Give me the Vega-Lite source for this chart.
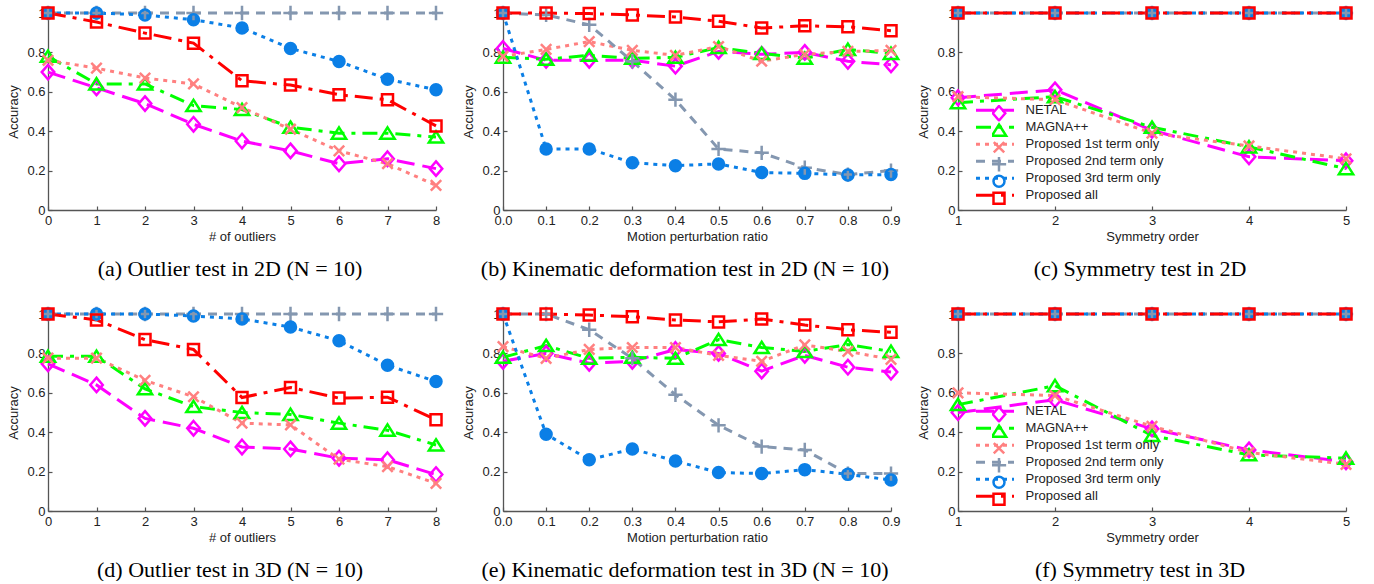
{
  "$schema": "https://vega.github.io/schema/vega-lite/v6.json",
  "padding": {"left": 7, "top": 0, "right": 0, "bottom": 0},
  "background": "white",
  "datasets": {
    "a": [
      {"series": "NETAL", "x": 0, "y": 0.70}, {"series": "NETAL", "x": 1, "y": 0.62}, {"series": "NETAL", "x": 2, "y": 0.54}, {"series": "NETAL", "x": 3, "y": 0.435}, {"series": "NETAL", "x": 4, "y": 0.35}, {"series": "NETAL", "x": 5, "y": 0.30}, {"series": "NETAL", "x": 6, "y": 0.235}, {"series": "NETAL", "x": 7, "y": 0.26}, {"series": "NETAL", "x": 8, "y": 0.21},
      {"series": "MAGNA++", "x": 0, "y": 0.78}, {"series": "MAGNA++", "x": 1, "y": 0.64}, {"series": "MAGNA++", "x": 2, "y": 0.64}, {"series": "MAGNA++", "x": 3, "y": 0.53}, {"series": "MAGNA++", "x": 4, "y": 0.51}, {"series": "MAGNA++", "x": 5, "y": 0.42}, {"series": "MAGNA++", "x": 6, "y": 0.39}, {"series": "MAGNA++", "x": 7, "y": 0.39}, {"series": "MAGNA++", "x": 8, "y": 0.37},
      {"series": "Proposed 1st term only", "x": 0, "y": 0.76}, {"series": "Proposed 1st term only", "x": 1, "y": 0.72}, {"series": "Proposed 1st term only", "x": 2, "y": 0.67}, {"series": "Proposed 1st term only", "x": 3, "y": 0.64}, {"series": "Proposed 1st term only", "x": 4, "y": 0.52}, {"series": "Proposed 1st term only", "x": 5, "y": 0.41}, {"series": "Proposed 1st term only", "x": 6, "y": 0.30}, {"series": "Proposed 1st term only", "x": 7, "y": 0.235}, {"series": "Proposed 1st term only", "x": 8, "y": 0.125},
      {"series": "Proposed 2nd term only", "x": 0, "y": 1}, {"series": "Proposed 2nd term only", "x": 1, "y": 1}, {"series": "Proposed 2nd term only", "x": 2, "y": 1}, {"series": "Proposed 2nd term only", "x": 3, "y": 1}, {"series": "Proposed 2nd term only", "x": 4, "y": 1}, {"series": "Proposed 2nd term only", "x": 5, "y": 1}, {"series": "Proposed 2nd term only", "x": 6, "y": 1}, {"series": "Proposed 2nd term only", "x": 7, "y": 1}, {"series": "Proposed 2nd term only", "x": 8, "y": 1},
      {"series": "Proposed 3rd term only", "x": 0, "y": 1}, {"series": "Proposed 3rd term only", "x": 1, "y": 1}, {"series": "Proposed 3rd term only", "x": 2, "y": 0.99}, {"series": "Proposed 3rd term only", "x": 3, "y": 0.966}, {"series": "Proposed 3rd term only", "x": 4, "y": 0.924}, {"series": "Proposed 3rd term only", "x": 5, "y": 0.82}, {"series": "Proposed 3rd term only", "x": 6, "y": 0.754}, {"series": "Proposed 3rd term only", "x": 7, "y": 0.664}, {"series": "Proposed 3rd term only", "x": 8, "y": 0.61},
      {"series": "Proposed all", "x": 0, "y": 1}, {"series": "Proposed all", "x": 1, "y": 0.954}, {"series": "Proposed all", "x": 2, "y": 0.898}, {"series": "Proposed all", "x": 3, "y": 0.847}, {"series": "Proposed all", "x": 4, "y": 0.656}, {"series": "Proposed all", "x": 5, "y": 0.634}, {"series": "Proposed all", "x": 6, "y": 0.585}, {"series": "Proposed all", "x": 7, "y": 0.56}, {"series": "Proposed all", "x": 8, "y": 0.427}
    ],
    "b": [
      {"series": "NETAL", "x": 0.0, "y": 0.82}, {"series": "NETAL", "x": 0.1, "y": 0.76}, {"series": "NETAL", "x": 0.2, "y": 0.76}, {"series": "NETAL", "x": 0.3, "y": 0.76}, {"series": "NETAL", "x": 0.4, "y": 0.73}, {"series": "NETAL", "x": 0.5, "y": 0.805}, {"series": "NETAL", "x": 0.6, "y": 0.79}, {"series": "NETAL", "x": 0.7, "y": 0.80}, {"series": "NETAL", "x": 0.8, "y": 0.755}, {"series": "NETAL", "x": 0.9, "y": 0.737},
      {"series": "MAGNA++", "x": 0.0, "y": 0.775}, {"series": "MAGNA++", "x": 0.1, "y": 0.765}, {"series": "MAGNA++", "x": 0.2, "y": 0.785}, {"series": "MAGNA++", "x": 0.3, "y": 0.77}, {"series": "MAGNA++", "x": 0.4, "y": 0.775}, {"series": "MAGNA++", "x": 0.5, "y": 0.825}, {"series": "MAGNA++", "x": 0.6, "y": 0.795}, {"series": "MAGNA++", "x": 0.7, "y": 0.77}, {"series": "MAGNA++", "x": 0.8, "y": 0.815}, {"series": "MAGNA++", "x": 0.9, "y": 0.795},
      {"series": "Proposed 1st term only", "x": 0.0, "y": 0.78}, {"series": "Proposed 1st term only", "x": 0.1, "y": 0.815}, {"series": "Proposed 1st term only", "x": 0.2, "y": 0.855}, {"series": "Proposed 1st term only", "x": 0.3, "y": 0.81}, {"series": "Proposed 1st term only", "x": 0.4, "y": 0.785}, {"series": "Proposed 1st term only", "x": 0.5, "y": 0.83}, {"series": "Proposed 1st term only", "x": 0.6, "y": 0.755}, {"series": "Proposed 1st term only", "x": 0.7, "y": 0.79}, {"series": "Proposed 1st term only", "x": 0.8, "y": 0.805}, {"series": "Proposed 1st term only", "x": 0.9, "y": 0.81},
      {"series": "Proposed 2nd term only", "x": 0.0, "y": 1}, {"series": "Proposed 2nd term only", "x": 0.1, "y": 0.99}, {"series": "Proposed 2nd term only", "x": 0.2, "y": 0.94}, {"series": "Proposed 2nd term only", "x": 0.3, "y": 0.755}, {"series": "Proposed 2nd term only", "x": 0.4, "y": 0.56}, {"series": "Proposed 2nd term only", "x": 0.5, "y": 0.31}, {"series": "Proposed 2nd term only", "x": 0.6, "y": 0.29}, {"series": "Proposed 2nd term only", "x": 0.7, "y": 0.215}, {"series": "Proposed 2nd term only", "x": 0.8, "y": 0.18}, {"series": "Proposed 2nd term only", "x": 0.9, "y": 0.20},
      {"series": "Proposed 3rd term only", "x": 0.0, "y": 1}, {"series": "Proposed 3rd term only", "x": 0.1, "y": 0.31}, {"series": "Proposed 3rd term only", "x": 0.2, "y": 0.31}, {"series": "Proposed 3rd term only", "x": 0.3, "y": 0.24}, {"series": "Proposed 3rd term only", "x": 0.4, "y": 0.225}, {"series": "Proposed 3rd term only", "x": 0.5, "y": 0.234}, {"series": "Proposed 3rd term only", "x": 0.6, "y": 0.19}, {"series": "Proposed 3rd term only", "x": 0.7, "y": 0.186}, {"series": "Proposed 3rd term only", "x": 0.8, "y": 0.178}, {"series": "Proposed 3rd term only", "x": 0.9, "y": 0.18},
      {"series": "Proposed all", "x": 0.0, "y": 1}, {"series": "Proposed all", "x": 0.1, "y": 1}, {"series": "Proposed all", "x": 0.2, "y": 0.997}, {"series": "Proposed all", "x": 0.3, "y": 0.99}, {"series": "Proposed all", "x": 0.4, "y": 0.98}, {"series": "Proposed all", "x": 0.5, "y": 0.958}, {"series": "Proposed all", "x": 0.6, "y": 0.924}, {"series": "Proposed all", "x": 0.7, "y": 0.935}, {"series": "Proposed all", "x": 0.8, "y": 0.93}, {"series": "Proposed all", "x": 0.9, "y": 0.91}
    ],
    "c": [
      {"series": "NETAL", "x": 1, "y": 0.57}, {"series": "NETAL", "x": 2, "y": 0.61}, {"series": "NETAL", "x": 3, "y": 0.405}, {"series": "NETAL", "x": 4, "y": 0.27}, {"series": "NETAL", "x": 5, "y": 0.25},
      {"series": "MAGNA++", "x": 1, "y": 0.545}, {"series": "MAGNA++", "x": 2, "y": 0.575}, {"series": "MAGNA++", "x": 3, "y": 0.42}, {"series": "MAGNA++", "x": 4, "y": 0.32}, {"series": "MAGNA++", "x": 5, "y": 0.21},
      {"series": "Proposed 1st term only", "x": 1, "y": 0.575}, {"series": "Proposed 1st term only", "x": 2, "y": 0.56}, {"series": "Proposed 1st term only", "x": 3, "y": 0.39}, {"series": "Proposed 1st term only", "x": 4, "y": 0.325}, {"series": "Proposed 1st term only", "x": 5, "y": 0.26},
      {"series": "Proposed 2nd term only", "x": 1, "y": 1}, {"series": "Proposed 2nd term only", "x": 2, "y": 1}, {"series": "Proposed 2nd term only", "x": 3, "y": 1}, {"series": "Proposed 2nd term only", "x": 4, "y": 1}, {"series": "Proposed 2nd term only", "x": 5, "y": 1},
      {"series": "Proposed 3rd term only", "x": 1, "y": 1}, {"series": "Proposed 3rd term only", "x": 2, "y": 1}, {"series": "Proposed 3rd term only", "x": 3, "y": 1}, {"series": "Proposed 3rd term only", "x": 4, "y": 1}, {"series": "Proposed 3rd term only", "x": 5, "y": 1},
      {"series": "Proposed all", "x": 1, "y": 1}, {"series": "Proposed all", "x": 2, "y": 1}, {"series": "Proposed all", "x": 3, "y": 1}, {"series": "Proposed all", "x": 4, "y": 1}, {"series": "Proposed all", "x": 5, "y": 1}
    ],
    "d": [
      {"series": "NETAL", "x": 0, "y": 0.747}, {"series": "NETAL", "x": 1, "y": 0.64}, {"series": "NETAL", "x": 2, "y": 0.47}, {"series": "NETAL", "x": 3, "y": 0.42}, {"series": "NETAL", "x": 4, "y": 0.325}, {"series": "NETAL", "x": 5, "y": 0.315}, {"series": "NETAL", "x": 6, "y": 0.268}, {"series": "NETAL", "x": 7, "y": 0.26}, {"series": "NETAL", "x": 8, "y": 0.185},
      {"series": "MAGNA++", "x": 0, "y": 0.785}, {"series": "MAGNA++", "x": 1, "y": 0.785}, {"series": "MAGNA++", "x": 2, "y": 0.62}, {"series": "MAGNA++", "x": 3, "y": 0.53}, {"series": "MAGNA++", "x": 4, "y": 0.50}, {"series": "MAGNA++", "x": 5, "y": 0.49}, {"series": "MAGNA++", "x": 6, "y": 0.446}, {"series": "MAGNA++", "x": 7, "y": 0.41}, {"series": "MAGNA++", "x": 8, "y": 0.335},
      {"series": "Proposed 1st term only", "x": 0, "y": 0.776}, {"series": "Proposed 1st term only", "x": 1, "y": 0.776}, {"series": "Proposed 1st term only", "x": 2, "y": 0.663}, {"series": "Proposed 1st term only", "x": 3, "y": 0.58}, {"series": "Proposed 1st term only", "x": 4, "y": 0.446}, {"series": "Proposed 1st term only", "x": 5, "y": 0.437}, {"series": "Proposed 1st term only", "x": 6, "y": 0.263}, {"series": "Proposed 1st term only", "x": 7, "y": 0.225}, {"series": "Proposed 1st term only", "x": 8, "y": 0.14},
      {"series": "Proposed 2nd term only", "x": 0, "y": 1}, {"series": "Proposed 2nd term only", "x": 1, "y": 1}, {"series": "Proposed 2nd term only", "x": 2, "y": 1}, {"series": "Proposed 2nd term only", "x": 3, "y": 1}, {"series": "Proposed 2nd term only", "x": 4, "y": 1}, {"series": "Proposed 2nd term only", "x": 5, "y": 1}, {"series": "Proposed 2nd term only", "x": 6, "y": 1}, {"series": "Proposed 2nd term only", "x": 7, "y": 1}, {"series": "Proposed 2nd term only", "x": 8, "y": 1},
      {"series": "Proposed 3rd term only", "x": 0, "y": 1}, {"series": "Proposed 3rd term only", "x": 1, "y": 1}, {"series": "Proposed 3rd term only", "x": 2, "y": 1}, {"series": "Proposed 3rd term only", "x": 3, "y": 0.99}, {"series": "Proposed 3rd term only", "x": 4, "y": 0.975}, {"series": "Proposed 3rd term only", "x": 5, "y": 0.934}, {"series": "Proposed 3rd term only", "x": 6, "y": 0.864}, {"series": "Proposed 3rd term only", "x": 7, "y": 0.74}, {"series": "Proposed 3rd term only", "x": 8, "y": 0.657},
      {"series": "Proposed all", "x": 0, "y": 1}, {"series": "Proposed all", "x": 1, "y": 0.97}, {"series": "Proposed all", "x": 2, "y": 0.87}, {"series": "Proposed all", "x": 3, "y": 0.82}, {"series": "Proposed all", "x": 4, "y": 0.576}, {"series": "Proposed all", "x": 5, "y": 0.627}, {"series": "Proposed all", "x": 6, "y": 0.573}, {"series": "Proposed all", "x": 7, "y": 0.578}, {"series": "Proposed all", "x": 8, "y": 0.463}
    ],
    "e": [
      {"series": "NETAL", "x": 0.0, "y": 0.76}, {"series": "NETAL", "x": 0.1, "y": 0.80}, {"series": "NETAL", "x": 0.2, "y": 0.75}, {"series": "NETAL", "x": 0.3, "y": 0.76}, {"series": "NETAL", "x": 0.4, "y": 0.82}, {"series": "NETAL", "x": 0.5, "y": 0.80}, {"series": "NETAL", "x": 0.6, "y": 0.71}, {"series": "NETAL", "x": 0.7, "y": 0.79}, {"series": "NETAL", "x": 0.8, "y": 0.73}, {"series": "NETAL", "x": 0.9, "y": 0.705},
      {"series": "MAGNA++", "x": 0.0, "y": 0.78}, {"series": "MAGNA++", "x": 0.1, "y": 0.84}, {"series": "MAGNA++", "x": 0.2, "y": 0.775}, {"series": "MAGNA++", "x": 0.3, "y": 0.78}, {"series": "MAGNA++", "x": 0.4, "y": 0.775}, {"series": "MAGNA++", "x": 0.5, "y": 0.87}, {"series": "MAGNA++", "x": 0.6, "y": 0.83}, {"series": "MAGNA++", "x": 0.7, "y": 0.81}, {"series": "MAGNA++", "x": 0.8, "y": 0.845}, {"series": "MAGNA++", "x": 0.9, "y": 0.81},
      {"series": "Proposed 1st term only", "x": 0.0, "y": 0.834}, {"series": "Proposed 1st term only", "x": 0.1, "y": 0.775}, {"series": "Proposed 1st term only", "x": 0.2, "y": 0.82}, {"series": "Proposed 1st term only", "x": 0.3, "y": 0.83}, {"series": "Proposed 1st term only", "x": 0.4, "y": 0.83}, {"series": "Proposed 1st term only", "x": 0.5, "y": 0.79}, {"series": "Proposed 1st term only", "x": 0.6, "y": 0.76}, {"series": "Proposed 1st term only", "x": 0.7, "y": 0.843}, {"series": "Proposed 1st term only", "x": 0.8, "y": 0.81}, {"series": "Proposed 1st term only", "x": 0.9, "y": 0.77},
      {"series": "Proposed 2nd term only", "x": 0.0, "y": 1}, {"series": "Proposed 2nd term only", "x": 0.1, "y": 1}, {"series": "Proposed 2nd term only", "x": 0.2, "y": 0.92}, {"series": "Proposed 2nd term only", "x": 0.3, "y": 0.775}, {"series": "Proposed 2nd term only", "x": 0.4, "y": 0.59}, {"series": "Proposed 2nd term only", "x": 0.5, "y": 0.435}, {"series": "Proposed 2nd term only", "x": 0.6, "y": 0.327}, {"series": "Proposed 2nd term only", "x": 0.7, "y": 0.31}, {"series": "Proposed 2nd term only", "x": 0.8, "y": 0.19}, {"series": "Proposed 2nd term only", "x": 0.9, "y": 0.19},
      {"series": "Proposed 3rd term only", "x": 0.0, "y": 1}, {"series": "Proposed 3rd term only", "x": 0.1, "y": 0.39}, {"series": "Proposed 3rd term only", "x": 0.2, "y": 0.26}, {"series": "Proposed 3rd term only", "x": 0.3, "y": 0.315}, {"series": "Proposed 3rd term only", "x": 0.4, "y": 0.254}, {"series": "Proposed 3rd term only", "x": 0.5, "y": 0.195}, {"series": "Proposed 3rd term only", "x": 0.6, "y": 0.19}, {"series": "Proposed 3rd term only", "x": 0.7, "y": 0.21}, {"series": "Proposed 3rd term only", "x": 0.8, "y": 0.186}, {"series": "Proposed 3rd term only", "x": 0.9, "y": 0.157},
      {"series": "Proposed all", "x": 0.0, "y": 1}, {"series": "Proposed all", "x": 0.1, "y": 1}, {"series": "Proposed all", "x": 0.2, "y": 0.995}, {"series": "Proposed all", "x": 0.3, "y": 0.986}, {"series": "Proposed all", "x": 0.4, "y": 0.97}, {"series": "Proposed all", "x": 0.5, "y": 0.96}, {"series": "Proposed all", "x": 0.6, "y": 0.975}, {"series": "Proposed all", "x": 0.7, "y": 0.944}, {"series": "Proposed all", "x": 0.8, "y": 0.92}, {"series": "Proposed all", "x": 0.9, "y": 0.907}
    ],
    "f": [
      {"series": "NETAL", "x": 1, "y": 0.50}, {"series": "NETAL", "x": 2, "y": 0.565}, {"series": "NETAL", "x": 3, "y": 0.417}, {"series": "NETAL", "x": 4, "y": 0.31}, {"series": "NETAL", "x": 5, "y": 0.25},
      {"series": "MAGNA++", "x": 1, "y": 0.54}, {"series": "MAGNA++", "x": 2, "y": 0.636}, {"series": "MAGNA++", "x": 3, "y": 0.383}, {"series": "MAGNA++", "x": 4, "y": 0.285}, {"series": "MAGNA++", "x": 5, "y": 0.268},
      {"series": "Proposed 1st term only", "x": 1, "y": 0.60}, {"series": "Proposed 1st term only", "x": 2, "y": 0.586}, {"series": "Proposed 1st term only", "x": 3, "y": 0.43}, {"series": "Proposed 1st term only", "x": 4, "y": 0.297}, {"series": "Proposed 1st term only", "x": 5, "y": 0.237},
      {"series": "Proposed 2nd term only", "x": 1, "y": 1}, {"series": "Proposed 2nd term only", "x": 2, "y": 1}, {"series": "Proposed 2nd term only", "x": 3, "y": 1}, {"series": "Proposed 2nd term only", "x": 4, "y": 1}, {"series": "Proposed 2nd term only", "x": 5, "y": 1},
      {"series": "Proposed 3rd term only", "x": 1, "y": 1}, {"series": "Proposed 3rd term only", "x": 2, "y": 1}, {"series": "Proposed 3rd term only", "x": 3, "y": 1}, {"series": "Proposed 3rd term only", "x": 4, "y": 1}, {"series": "Proposed 3rd term only", "x": 5, "y": 1},
      {"series": "Proposed all", "x": 1, "y": 1}, {"series": "Proposed all", "x": 2, "y": 1}, {"series": "Proposed all", "x": 3, "y": 1}, {"series": "Proposed all", "x": 4, "y": 1}, {"series": "Proposed all", "x": 5, "y": 1}
    ]
  },
  "columns": 3,
  "spacing": {"row": 104, "column": 67},
  "bounds": "flush",
  "resolve": {
    "scale": {"color": "independent", "stroke": "independent", "strokeDash": "independent", "shape": "independent"},
    "legend": {"color": "independent", "stroke": "independent", "strokeDash": "independent", "shape": "independent"}
  },
  "concat": [
    {
      "width": 388, "height": 197,
      "title": "(a) Outlier test in 2D (N = 10)",
      "data": {"name": "a"},
      "encoding": {
        "x": {"field": "x", "type": "quantitative", "scale": {"domain": [0, 8], "nice": false, "zero": false}, "axis": {"title": "# of outliers", "values": [0, 1, 2, 3, 4, 5, 6, 7, 8], "format": "d"}},
        "y": {"field": "y", "type": "quantitative", "scale": {"domain": [0, 1], "nice": false}, "axis": {"title": "Accuracy", "values": [0, 0.2, 0.4, 0.6, 0.8, 1], "format": "~g"}}
      },
      "layer": [
        {"mark": {"type": "line", "strokeWidth": 3},
         "encoding": {
           "stroke": {"field": "series", "type": "nominal", "scale": {"domain": ["NETAL", "MAGNA++", "Proposed 1st term only", "Proposed 2nd term only", "Proposed 3rd term only", "Proposed all"], "range": ["#ff00ff", "#00ff00", "#ff8080", "#8497b0", "#0b7fe6", "#ff0000"]}, "legend": null},
           "strokeDash": {"field": "series", "type": "nominal", "scale": {"domain": ["NETAL", "MAGNA++", "Proposed 1st term only", "Proposed 2nd term only", "Proposed 3rd term only", "Proposed all"], "range": [[18, 8], [15, 7, 4, 7], [4, 5], [9, 7], [4, 5], [18, 7, 4, 7]]}, "legend": null}
         }},
        {"transform": [{"filter": "datum.series === 'Proposed 3rd term only'"}],
         "mark": {"type": "point", "shape": "circle", "filled": true, "color": "#0b7fe6", "size": 121, "opacity": 1, "strokeWidth": 2.5}},
        {"mark": {"type": "point", "filled": false, "strokeWidth": 2.5, "size": 121, "opacity": 1},
         "encoding": {
           "color": {"field": "series", "type": "nominal", "sort": null, "scale": {"range": ["#ff00ff", "#00ff00", "#ff8080", "#8497b0", "#0b7fe6", "#ff0000"]}, "legend": null},
           "shape": {"field": "series", "type": "nominal", "sort": null, "scale": {"range": ["M0,-1.32L1.14,0L0,1.32L-1.14,0Z", "M0,-1.05L1.3,1L-1.3,1Z", "M-0.95,-0.95L0.95,0.95M-0.95,0.95L0.95,-0.95", "M-1.3,0L1.3,0M0,-1.3L0,1.3", "circle", "M-1,-1L1,-1L1,1L-1,1Z"]}, "legend": null}
         }}
      ]
    },
    {
      "width": 388, "height": 197,
      "title": "(b) Kinematic deformation test in 2D (N = 10)",
      "data": {"name": "b"},
      "encoding": {
        "x": {"field": "x", "type": "quantitative", "scale": {"domain": [0, 0.9], "nice": false, "zero": false}, "axis": {"title": "Motion perturbation ratio", "values": [0, 0.1, 0.2, 0.3, 0.4, 0.5, 0.6, 0.7, 0.8, 0.9], "format": ".1f"}},
        "y": {"field": "y", "type": "quantitative", "scale": {"domain": [0, 1], "nice": false}, "axis": {"title": "Accuracy", "values": [0, 0.2, 0.4, 0.6, 0.8, 1], "format": "~g"}}
      },
      "layer": [
        {"mark": {"type": "line", "strokeWidth": 3},
         "encoding": {
           "stroke": {"field": "series", "type": "nominal", "scale": {"domain": ["NETAL", "MAGNA++", "Proposed 1st term only", "Proposed 2nd term only", "Proposed 3rd term only", "Proposed all"], "range": ["#ff00ff", "#00ff00", "#ff8080", "#8497b0", "#0b7fe6", "#ff0000"]}, "legend": null},
           "strokeDash": {"field": "series", "type": "nominal", "scale": {"domain": ["NETAL", "MAGNA++", "Proposed 1st term only", "Proposed 2nd term only", "Proposed 3rd term only", "Proposed all"], "range": [[18, 8], [15, 7, 4, 7], [4, 5], [9, 7], [4, 5], [18, 7, 4, 7]]}, "legend": null}
         }},
        {"transform": [{"filter": "datum.series === 'Proposed 3rd term only'"}],
         "mark": {"type": "point", "shape": "circle", "filled": true, "color": "#0b7fe6", "size": 121, "opacity": 1, "strokeWidth": 2.5}},
        {"mark": {"type": "point", "filled": false, "strokeWidth": 2.5, "size": 121, "opacity": 1},
         "encoding": {
           "color": {"field": "series", "type": "nominal", "sort": null, "scale": {"range": ["#ff00ff", "#00ff00", "#ff8080", "#8497b0", "#0b7fe6", "#ff0000"]}, "legend": null},
           "shape": {"field": "series", "type": "nominal", "sort": null, "scale": {"range": ["M0,-1.32L1.14,0L0,1.32L-1.14,0Z", "M0,-1.05L1.3,1L-1.3,1Z", "M-0.95,-0.95L0.95,0.95M-0.95,0.95L0.95,-0.95", "M-1.3,0L1.3,0M0,-1.3L0,1.3", "circle", "M-1,-1L1,-1L1,1L-1,1Z"]}, "legend": null}
         }}
      ]
    },
    {
      "width": 388, "height": 197,
      "title": "(c) Symmetry test in 2D",
      "data": {"name": "c"},
      "encoding": {
        "x": {"field": "x", "type": "quantitative", "scale": {"domain": [1, 5], "nice": false, "zero": false}, "axis": {"title": "Symmetry order", "values": [1, 2, 3, 4, 5], "format": "d"}},
        "y": {"field": "y", "type": "quantitative", "scale": {"domain": [0, 1], "nice": false}, "axis": {"title": "Accuracy", "values": [0, 0.2, 0.4, 0.6, 0.8, 1], "format": "~g"}}
      },
      "layer": [
        {"mark": {"type": "line", "strokeWidth": 3},
         "encoding": {
           "stroke": {"field": "series", "type": "nominal", "scale": {"domain": ["NETAL", "MAGNA++", "Proposed 1st term only", "Proposed 2nd term only", "Proposed 3rd term only", "Proposed all"], "range": ["#ff00ff", "#00ff00", "#ff8080", "#8497b0", "#0b7fe6", "#ff0000"]},
             "legend": {"orient": "bottom-left", "offset": 6, "title": null, "padding": 0, "rowPadding": 0, "clipHeight": 16.5, "symbolType": "stroke", "symbolSize": 1444, "symbolStrokeWidth": 3, "symbolOffset": 10.5, "labelOffset": 10, "labelFont": "Liberation Sans", "labelFontSize": 13, "labelColor": "#222"}},
           "strokeDash": {"field": "series", "type": "nominal", "scale": {"domain": ["NETAL", "MAGNA++", "Proposed 1st term only", "Proposed 2nd term only", "Proposed 3rd term only", "Proposed all"], "range": [[18, 8], [15, 7, 4, 7], [4, 5], [9, 7], [4, 5], [18, 7, 4, 7]]},
             "legend": {"orient": "bottom-left", "offset": 6, "title": null, "padding": 0, "rowPadding": 0, "clipHeight": 16.5, "symbolType": "stroke", "symbolSize": 1444, "symbolStrokeWidth": 3, "symbolOffset": 10.5, "labelOffset": 10, "labelFont": "Liberation Sans", "labelFontSize": 13, "labelColor": "#222"}}
         }},
        {"transform": [{"filter": "datum.series === 'Proposed 3rd term only'"}],
         "mark": {"type": "point", "shape": "circle", "filled": true, "color": "#0b7fe6", "size": 121, "opacity": 1, "strokeWidth": 2.5}},
        {"mark": {"type": "point", "filled": false, "strokeWidth": 2.5, "size": 121, "opacity": 1},
         "encoding": {
           "color": {"field": "series", "type": "nominal", "sort": null, "scale": {"range": ["#ff00ff", "#00ff00", "#ff8080", "#8497b0", "#0b7fe6", "#ff0000"]},
             "legend": {"orient": "none", "legendX": 34, "legendY": 92, "title": null, "padding": 0, "rowPadding": 0, "clipHeight": 16.5, "symbolSize": 121, "symbolStrokeWidth": 2.5, "labelExpr": "''", "labelFontSize": 13}},
           "shape": {"field": "series", "type": "nominal", "sort": null, "scale": {"range": ["M0,-1.32L1.14,0L0,1.32L-1.14,0Z", "M0,-1.05L1.3,1L-1.3,1Z", "M-0.95,-0.95L0.95,0.95M-0.95,0.95L0.95,-0.95", "M-1.3,0L1.3,0M0,-1.3L0,1.3", "circle", "M-1,-1L1,-1L1,1L-1,1Z"]},
             "legend": {"orient": "none", "legendX": 34, "legendY": 92, "title": null, "padding": 0, "rowPadding": 0, "clipHeight": 16.5, "symbolSize": 121, "symbolStrokeWidth": 2.5, "labelExpr": "''", "labelFontSize": 13}}
         }}
      ]
    },
    {
      "width": 388, "height": 197,
      "title": "(d) Outlier test in 3D (N = 10)",
      "data": {"name": "d"},
      "encoding": {
        "x": {"field": "x", "type": "quantitative", "scale": {"domain": [0, 8], "nice": false, "zero": false}, "axis": {"title": "# of outliers", "values": [0, 1, 2, 3, 4, 5, 6, 7, 8], "format": "d"}},
        "y": {"field": "y", "type": "quantitative", "scale": {"domain": [0, 1], "nice": false}, "axis": {"title": "Accuracy", "values": [0, 0.2, 0.4, 0.6, 0.8, 1], "format": "~g"}}
      },
      "layer": [
        {"mark": {"type": "line", "strokeWidth": 3},
         "encoding": {
           "stroke": {"field": "series", "type": "nominal", "scale": {"domain": ["NETAL", "MAGNA++", "Proposed 1st term only", "Proposed 2nd term only", "Proposed 3rd term only", "Proposed all"], "range": ["#ff00ff", "#00ff00", "#ff8080", "#8497b0", "#0b7fe6", "#ff0000"]}, "legend": null},
           "strokeDash": {"field": "series", "type": "nominal", "scale": {"domain": ["NETAL", "MAGNA++", "Proposed 1st term only", "Proposed 2nd term only", "Proposed 3rd term only", "Proposed all"], "range": [[18, 8], [15, 7, 4, 7], [4, 5], [9, 7], [4, 5], [18, 7, 4, 7]]}, "legend": null}
         }},
        {"transform": [{"filter": "datum.series === 'Proposed 3rd term only'"}],
         "mark": {"type": "point", "shape": "circle", "filled": true, "color": "#0b7fe6", "size": 121, "opacity": 1, "strokeWidth": 2.5}},
        {"mark": {"type": "point", "filled": false, "strokeWidth": 2.5, "size": 121, "opacity": 1},
         "encoding": {
           "color": {"field": "series", "type": "nominal", "sort": null, "scale": {"range": ["#ff00ff", "#00ff00", "#ff8080", "#8497b0", "#0b7fe6", "#ff0000"]}, "legend": null},
           "shape": {"field": "series", "type": "nominal", "sort": null, "scale": {"range": ["M0,-1.32L1.14,0L0,1.32L-1.14,0Z", "M0,-1.05L1.3,1L-1.3,1Z", "M-0.95,-0.95L0.95,0.95M-0.95,0.95L0.95,-0.95", "M-1.3,0L1.3,0M0,-1.3L0,1.3", "circle", "M-1,-1L1,-1L1,1L-1,1Z"]}, "legend": null}
         }}
      ]
    },
    {
      "width": 388, "height": 197,
      "title": "(e) Kinematic deformation test in 3D (N = 10)",
      "data": {"name": "e"},
      "encoding": {
        "x": {"field": "x", "type": "quantitative", "scale": {"domain": [0, 0.9], "nice": false, "zero": false}, "axis": {"title": "Motion perturbation ratio", "values": [0, 0.1, 0.2, 0.3, 0.4, 0.5, 0.6, 0.7, 0.8, 0.9], "format": ".1f"}},
        "y": {"field": "y", "type": "quantitative", "scale": {"domain": [0, 1], "nice": false}, "axis": {"title": "Accuracy", "values": [0, 0.2, 0.4, 0.6, 0.8, 1], "format": "~g"}}
      },
      "layer": [
        {"mark": {"type": "line", "strokeWidth": 3},
         "encoding": {
           "stroke": {"field": "series", "type": "nominal", "scale": {"domain": ["NETAL", "MAGNA++", "Proposed 1st term only", "Proposed 2nd term only", "Proposed 3rd term only", "Proposed all"], "range": ["#ff00ff", "#00ff00", "#ff8080", "#8497b0", "#0b7fe6", "#ff0000"]}, "legend": null},
           "strokeDash": {"field": "series", "type": "nominal", "scale": {"domain": ["NETAL", "MAGNA++", "Proposed 1st term only", "Proposed 2nd term only", "Proposed 3rd term only", "Proposed all"], "range": [[18, 8], [15, 7, 4, 7], [4, 5], [9, 7], [4, 5], [18, 7, 4, 7]]}, "legend": null}
         }},
        {"transform": [{"filter": "datum.series === 'Proposed 3rd term only'"}],
         "mark": {"type": "point", "shape": "circle", "filled": true, "color": "#0b7fe6", "size": 121, "opacity": 1, "strokeWidth": 2.5}},
        {"mark": {"type": "point", "filled": false, "strokeWidth": 2.5, "size": 121, "opacity": 1},
         "encoding": {
           "color": {"field": "series", "type": "nominal", "sort": null, "scale": {"range": ["#ff00ff", "#00ff00", "#ff8080", "#8497b0", "#0b7fe6", "#ff0000"]}, "legend": null},
           "shape": {"field": "series", "type": "nominal", "sort": null, "scale": {"range": ["M0,-1.32L1.14,0L0,1.32L-1.14,0Z", "M0,-1.05L1.3,1L-1.3,1Z", "M-0.95,-0.95L0.95,0.95M-0.95,0.95L0.95,-0.95", "M-1.3,0L1.3,0M0,-1.3L0,1.3", "circle", "M-1,-1L1,-1L1,1L-1,1Z"]}, "legend": null}
         }}
      ]
    },
    {
      "width": 388, "height": 197,
      "title": "(f) Symmetry test in 3D",
      "data": {"name": "f"},
      "encoding": {
        "x": {"field": "x", "type": "quantitative", "scale": {"domain": [1, 5], "nice": false, "zero": false}, "axis": {"title": "Symmetry order", "values": [1, 2, 3, 4, 5], "format": "d"}},
        "y": {"field": "y", "type": "quantitative", "scale": {"domain": [0, 1], "nice": false}, "axis": {"title": "Accuracy", "values": [0, 0.2, 0.4, 0.6, 0.8, 1], "format": "~g"}}
      },
      "layer": [
        {"mark": {"type": "line", "strokeWidth": 3},
         "encoding": {
           "stroke": {"field": "series", "type": "nominal", "scale": {"domain": ["NETAL", "MAGNA++", "Proposed 1st term only", "Proposed 2nd term only", "Proposed 3rd term only", "Proposed all"], "range": ["#ff00ff", "#00ff00", "#ff8080", "#8497b0", "#0b7fe6", "#ff0000"]},
             "legend": {"orient": "bottom-left", "offset": 6, "title": null, "padding": 0, "rowPadding": 0, "clipHeight": 16.5, "symbolType": "stroke", "symbolSize": 1444, "symbolStrokeWidth": 3, "symbolOffset": 10.5, "labelOffset": 10, "labelFont": "Liberation Sans", "labelFontSize": 13, "labelColor": "#222"}},
           "strokeDash": {"field": "series", "type": "nominal", "scale": {"domain": ["NETAL", "MAGNA++", "Proposed 1st term only", "Proposed 2nd term only", "Proposed 3rd term only", "Proposed all"], "range": [[18, 8], [15, 7, 4, 7], [4, 5], [9, 7], [4, 5], [18, 7, 4, 7]]},
             "legend": {"orient": "bottom-left", "offset": 6, "title": null, "padding": 0, "rowPadding": 0, "clipHeight": 16.5, "symbolType": "stroke", "symbolSize": 1444, "symbolStrokeWidth": 3, "symbolOffset": 10.5, "labelOffset": 10, "labelFont": "Liberation Sans", "labelFontSize": 13, "labelColor": "#222"}}
         }},
        {"transform": [{"filter": "datum.series === 'Proposed 3rd term only'"}],
         "mark": {"type": "point", "shape": "circle", "filled": true, "color": "#0b7fe6", "size": 121, "opacity": 1, "strokeWidth": 2.5}},
        {"mark": {"type": "point", "filled": false, "strokeWidth": 2.5, "size": 121, "opacity": 1},
         "encoding": {
           "color": {"field": "series", "type": "nominal", "sort": null, "scale": {"range": ["#ff00ff", "#00ff00", "#ff8080", "#8497b0", "#0b7fe6", "#ff0000"]},
             "legend": {"orient": "none", "legendX": 34, "legendY": 92, "title": null, "padding": 0, "rowPadding": 0, "clipHeight": 16.5, "symbolSize": 121, "symbolStrokeWidth": 2.5, "labelExpr": "''", "labelFontSize": 13}},
           "shape": {"field": "series", "type": "nominal", "sort": null, "scale": {"range": ["M0,-1.32L1.14,0L0,1.32L-1.14,0Z", "M0,-1.05L1.3,1L-1.3,1Z", "M-0.95,-0.95L0.95,0.95M-0.95,0.95L0.95,-0.95", "M-1.3,0L1.3,0M0,-1.3L0,1.3", "circle", "M-1,-1L1,-1L1,1L-1,1Z"]},
             "legend": {"orient": "none", "legendX": 34, "legendY": 92, "title": null, "padding": 0, "rowPadding": 0, "clipHeight": 16.5, "symbolSize": 121, "symbolStrokeWidth": 2.5, "labelExpr": "''", "labelFontSize": 13}}
         }}
      ]
    }
  ],
  "config": {
    "view": {"stroke": null},
    "font": "Liberation Sans",
    "axis": {"grid": false, "domainColor": "#555555", "domainWidth": 1.3, "tickColor": "#555555", "tickSize": -4, "tickWidth": 1.2, "labelColor": "#222222", "titleColor": "#222222", "labelFont": "Liberation Sans", "titleFont": "Liberation Sans", "labelFontSize": 13, "titleFontSize": 13, "titleFontWeight": "normal", "labelFlush": false, "labelOverlap": false, "labelPadding": 7},
    "axisX": {"titlePadding": 3, "labelPadding": 8},
    "axisY": {"titlePadding": 6},
    "title": {"orient": "bottom", "font": "Liberation Serif", "fontSize": 22, "fontWeight": "normal", "color": "#000000", "anchor": "middle", "offset": 16, "dx": -12}
  }
}
